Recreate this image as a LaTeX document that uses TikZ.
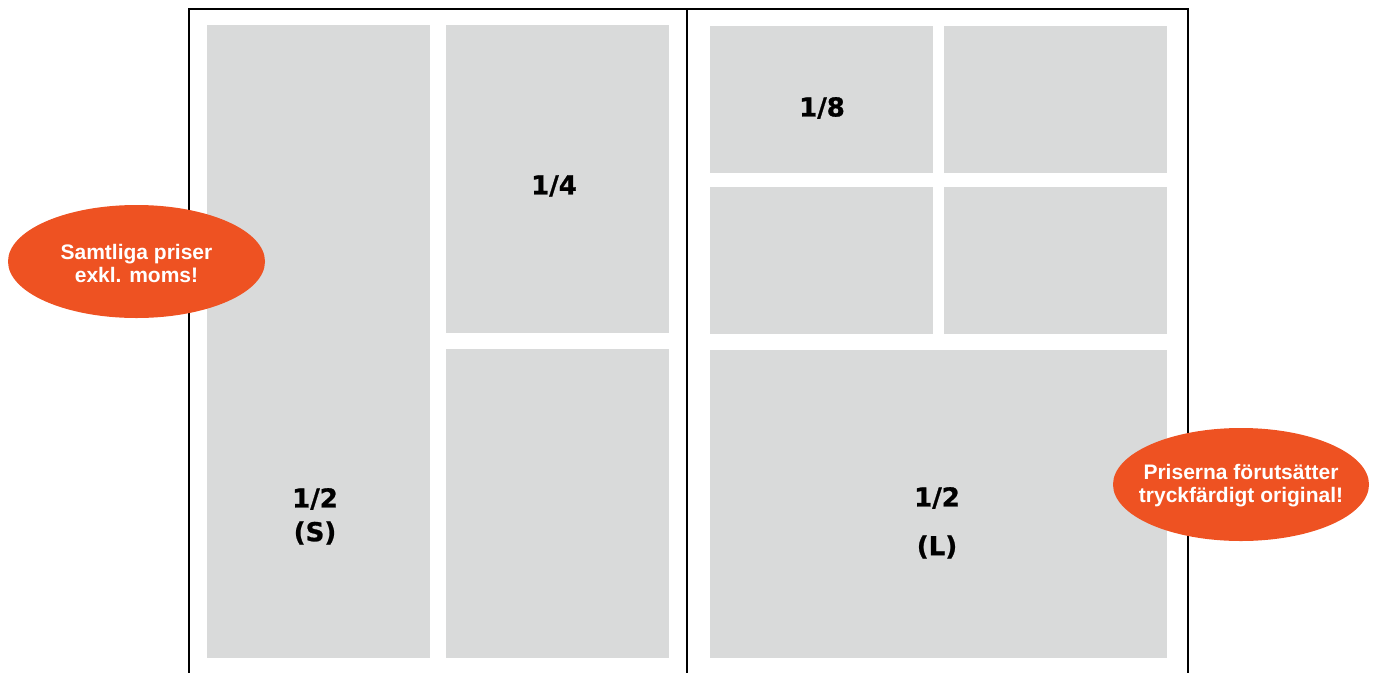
\documentclass[tikz,border=0pt]{standalone}
\usepackage{fontspec}
\setmainfont{DejaVu Sans}
\newfontfamily\badgefont{Liberation Sans}
\newfontfamily\lblfont[FakeBold=1]{DejaVu Sans Bold}
\definecolor{panelgray}{HTML}{D9DADA}
\definecolor{badgeorange}{HTML}{EE5222}
\begin{document}
\begin{tikzpicture}[x=1pt,y=-1pt,
  panel/.style={fill=panelgray,draw=none},
  frameline/.style={line width=2.6pt,black},
  lbl/.style={font=\lblfont\fontsize{26}{28}\selectfont,text=black,inner sep=0pt},
  badgetext/.style={font=\badgefont\fontsize{21}{23}\selectfont\bfseries,text=white,align=center,inner sep=0pt}]
\useasboundingbox (0,0) rectangle (1375,672);
% frame
\draw[frameline] (189,673) -- (189,9) -- (1188,9) -- (1188,673);
\draw[frameline] (687,9) -- (687,673);
% left page panels
\fill[panel] (207,25) rectangle (430,658);
\fill[panel] (446,25) rectangle (669,333);
\fill[panel] (446,349) rectangle (669,658);
% right page panels
\fill[panel] (710,26) rectangle (933,173);
\fill[panel] (944,26) rectangle (1167,173);
\fill[panel] (710,187) rectangle (933,334);
\fill[panel] (944,187) rectangle (1167,334);
\fill[panel] (710,350) rectangle (1167,658);
% labels
\node[lbl] (q) at (554,186) {1/4};
\node[lbl] (e) at (822,108) {1/8};
\node[lbl] (s1) at (315,499) {1/2};
\node[lbl] (s2) at (315,533) {(S)};
\node[lbl] (l1) at (937,498) {1/2};
\node[lbl] (l2) at (937,547) {(L)};
% badges
\fill[badgeorange] (136.5,261.5) ellipse [x radius=128.5, y radius=56.5];
\node[badgetext] (b1) at (136.5,263) {Samtliga priser\\exkl. moms!};
\fill[badgeorange] (1241,484.5) ellipse [x radius=128, y radius=56.5];
\node[badgetext] (b2) at (1241,486) {Priserna förutsätter\\tryckfärdigt original!};
\end{tikzpicture}
\end{document}
